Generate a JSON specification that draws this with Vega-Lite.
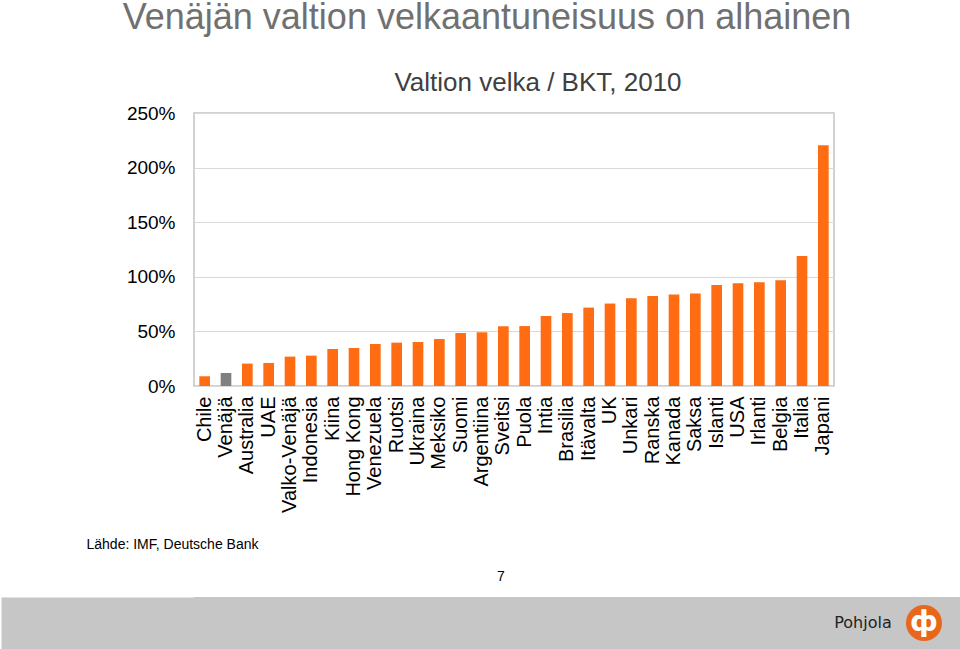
{
  "$schema": "https://vega.github.io/schema/vega-lite/v6.json",
  "background": "white",
  "padding": 0,
  "spacing": 18,
  "bounds": "full",
  "align": "none",
  "columns": 1,
  "config": {
    "font": "Liberation Sans",
    "axis": {"labelFont": "Liberation Sans", "titleFont": "Liberation Sans"}
  },
  "title": {
    "text": "Venäjän valtion velkaantuneisuus on alhainen",
    "font": "Liberation Sans",
    "fontSize": 36,
    "fontWeight": "normal",
    "color": "#707070",
    "anchor": "middle",
    "frame": "group",
    "dx": 293,
    "offset": 32
  },
  "concat": [
    {
      "width": 640,
      "height": 273,
      "title": {
        "text": "Valtion velka / BKT, 2010",
        "font": "Liberation Sans",
        "fontSize": 26,
        "fontWeight": "normal",
        "color": "#404040",
        "anchor": "middle",
        "frame": "group",
        "dx": 24,
        "offset": 8
      },
      "view": {"stroke": "#c4c4c4", "strokeWidth": 1.5},
      "data": {
        "values": [
          {"maa": "Chile", "velka": 8.9, "ryhma": "Muut"},
          {"maa": "Venäjä", "velka": 11.9, "ryhma": "Venäjä"},
          {"maa": "Australia", "velka": 20.5, "ryhma": "Muut"},
          {"maa": "UAE", "velka": 21.1, "ryhma": "Muut"},
          {"maa": "Valko-Venäjä", "velka": 26.9, "ryhma": "Muut"},
          {"maa": "Indonesia", "velka": 27.8, "ryhma": "Muut"},
          {"maa": "Kiina", "velka": 33.9, "ryhma": "Muut"},
          {"maa": "Hong Kong", "velka": 34.8, "ryhma": "Muut"},
          {"maa": "Venezuela", "velka": 38.5, "ryhma": "Muut"},
          {"maa": "Ruotsi", "velka": 39.7, "ryhma": "Muut"},
          {"maa": "Ukraina", "velka": 40.3, "ryhma": "Muut"},
          {"maa": "Meksiko", "velka": 43.0, "ryhma": "Muut"},
          {"maa": "Suomi", "velka": 48.5, "ryhma": "Muut"},
          {"maa": "Argentiina", "velka": 49.2, "ryhma": "Muut"},
          {"maa": "Sveitsi", "velka": 54.7, "ryhma": "Muut"},
          {"maa": "Puola", "velka": 54.9, "ryhma": "Muut"},
          {"maa": "Intia", "velka": 64.1, "ryhma": "Muut"},
          {"maa": "Brasilia", "velka": 66.8, "ryhma": "Muut"},
          {"maa": "Itävalta", "velka": 71.8, "ryhma": "Muut"},
          {"maa": "UK", "velka": 75.5, "ryhma": "Muut"},
          {"maa": "Unkari", "velka": 80.3, "ryhma": "Muut"},
          {"maa": "Ranska", "velka": 82.4, "ryhma": "Muut"},
          {"maa": "Kanada", "velka": 83.7, "ryhma": "Muut"},
          {"maa": "Saksa", "velka": 84.6, "ryhma": "Muut"},
          {"maa": "Islanti", "velka": 92.5, "ryhma": "Muut"},
          {"maa": "USA", "velka": 94.0, "ryhma": "Muut"},
          {"maa": "Irlanti", "velka": 95.0, "ryhma": "Muut"},
          {"maa": "Belgia", "velka": 96.8, "ryhma": "Muut"},
          {"maa": "Italia", "velka": 119.0, "ryhma": "Muut"},
          {"maa": "Japani", "velka": 220.4, "ryhma": "Muut"}
        ]
      },
      "mark": {"type": "bar"},
      "encoding": {
        "x": {
          "field": "maa",
          "type": "nominal",
          "sort": null,
          "scale": {"paddingInner": 0.5, "paddingOuter": 0.25},
          "axis": {
            "labelAngle": 270,
            "labelFontSize": 20,
            "labelColor": "#000000",
            "labelPadding": 10,
            "labelOverlap": false,
            "labelLimit": 0,
            "ticks": false,
            "domain": false,
            "grid": false,
            "title": "Lähde: IMF, Deutsche Bank",
            "titleFontSize": 14,
            "titleFontWeight": "normal",
            "titleColor": "#000000",
            "titleX": -108,
            "titleY": 162,
            "titleAlign": "left",
            "titleAnchor": "start",
            "titleBaseline": "alphabetic"
          }
        },
        "y": {
          "field": "velka",
          "type": "quantitative",
          "scale": {"domain": [0, 250], "nice": false},
          "axis": {
            "values": [0, 50, 100, 150, 200, 250],
            "labelExpr": "datum.value + '%'",
            "labelFontSize": 19,
            "labelColor": "#000000",
            "labelPadding": 19,
            "ticks": false,
            "domain": false,
            "grid": true,
            "gridColor": "#d9d9d9",
            "gridWidth": 1.2,
            "title": " ",
            "titleX": -193,
            "titleY": 0,
            "titleAngle": 0,
            "titleAlign": "left",
            "titleBaseline": "top",
            "titleFontSize": 1
          }
        },
        "color": {
          "field": "ryhma",
          "type": "nominal",
          "scale": {"domain": ["Venäjä", "Muut"], "range": ["#808080", "#ff6c12"]},
          "legend": null
        }
      }
    },
    {
      "width": 767,
      "height": 52,
      "title": {
        "text": "7",
        "font": "Liberation Sans",
        "fontSize": 14,
        "fontWeight": "normal",
        "color": "#000000",
        "anchor": "middle",
        "frame": "group",
        "dx": -76.5,
        "offset": 13
      },
      "view": {"fill": "#c6c6c6", "stroke": null},
      "layer": [
        {
          "data": {"values": [{"merkki": "Pohjola"}]},
          "mark": {"type": "text", "font": "DejaVu Sans", "fontSize": 16, "color": "#222222", "dx": 285.5, "align": "center", "baseline": "middle"},
          "encoding": {
            "text": {"field": "merkki", "type": "nominal"},
            "y": {
              "field": "merkki",
              "type": "nominal",
              "axis": {
                "labels": false,
                "ticks": false,
                "grid": false,
                "title": null,
                "domain": true,
                "domainColor": "#c6c6c6",
                "domainWidth": 193,
                "domainCap": "butt",
                "offset": 96.5
              }
            }
          }
        },
        {
          "data": {"values": [{"merkki": "logo"}]},
          "mark": {"type": "point", "shape": "circle", "filled": true, "size": 1300, "color": "#e8671b", "opacity": 1, "xOffset": 346.5},
          "encoding": {}
        },
        {
          "data": {"values": [{"merkki": "ф"}]},
          "mark": {"type": "text", "font": "DejaVu Sans", "fontWeight": "bold", "fontSize": 28, "color": "#ffffff", "dx": 346.5, "align": "center", "baseline": "middle"},
          "encoding": {"text": {"field": "merkki", "type": "nominal"}}
        }
      ]
    }
  ]
}
